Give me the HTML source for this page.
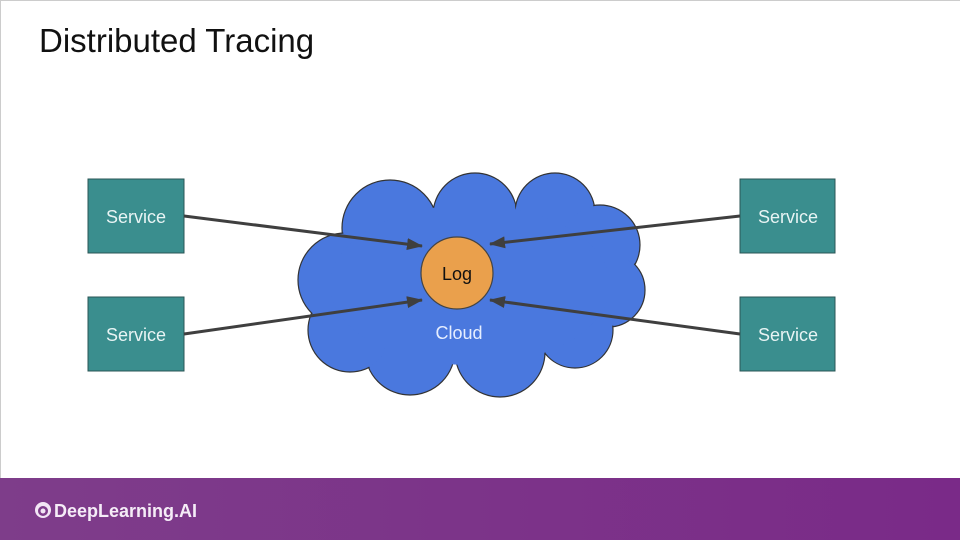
<!DOCTYPE html>
<html><head><style>
body{margin:0;width:960px;height:540px;overflow:hidden;background:#fff;font-family:"Liberation Sans",sans-serif;}
</style></head><body>
<svg width="960" height="540" viewBox="0 0 960 540" xmlns="http://www.w3.org/2000/svg" style="position:absolute;left:0;top:0">
<defs>
<linearGradient id="pg" x1="0" x2="1"><stop offset="0" stop-color="#7e3d8a"/><stop offset="1" stop-color="#7a2a88"/></linearGradient>
<marker id="ah" markerWidth="16" markerHeight="12" refX="15" refY="6" orient="auto" markerUnits="userSpaceOnUse"><path d="M0,0 L16,6 L0,12 z" fill="#3f3f3f"/></marker>
</defs>
<rect x="0" y="0" width="960" height="540" fill="#fff"/>
<line x1="0" y1="0.5" x2="960" y2="0.5" stroke="#ccc"/>
<line x1="0.5" y1="0" x2="0.5" y2="478" stroke="#ccc"/>
<text x="39" y="52" font-size="33" fill="#111" font-family="Liberation Sans, sans-serif">Distributed Tracing</text>
<!-- cloud -->
<g fill="#4a78de" stroke="#333" stroke-width="1.2">
<circle cx="390" cy="228" r="48"/><circle cx="475" cy="215" r="42"/><circle cx="555" cy="213" r="40"/><circle cx="600" cy="245" r="40"/>
<circle cx="608" cy="290" r="37"/><circle cx="575" cy="330" r="38"/><circle cx="500" cy="352" r="45"/><circle cx="410" cy="350" r="45"/>
<circle cx="350" cy="330" r="42"/><circle cx="345" cy="280" r="47"/>
</g>
<g fill="#4a78de">
<circle cx="390" cy="228" r="47"/><circle cx="475" cy="215" r="41"/><circle cx="555" cy="213" r="39"/><circle cx="600" cy="245" r="39"/>
<circle cx="608" cy="290" r="36"/><circle cx="575" cy="330" r="37"/><circle cx="500" cy="352" r="44"/><circle cx="410" cy="350" r="44"/>
<circle cx="350" cy="330" r="41"/><circle cx="345" cy="280" r="46"/>
<ellipse cx="470" cy="285" rx="140" ry="80"/>
</g>
<text x="459" y="339" font-size="18" fill="#e6eeff" text-anchor="middle">Cloud</text>
<circle cx="457" cy="273" r="36" fill="#eaa04c" stroke="#444" stroke-width="1.2"/>
<text x="457" y="280" font-size="18" fill="#111" text-anchor="middle">Log</text>
<!-- services -->
<g fill="#3a8e8e" stroke="#2a5555" stroke-width="1">
<rect x="88" y="179" width="96" height="74"/><rect x="88" y="297" width="96" height="74"/>
<rect x="740" y="179" width="95" height="74"/><rect x="740" y="297" width="95" height="74"/>
</g>
<g fill="#e8f4f4" font-size="18" text-anchor="middle">
<text x="136" y="223">Service</text><text x="136" y="341">Service</text>
<text x="788" y="223">Service</text><text x="788" y="341">Service</text>
</g>
<g stroke="#3f3f3f" stroke-width="3" marker-end="url(#ah)">
<line x1="184" y1="216" x2="422" y2="246"/>
<line x1="184" y1="334" x2="422" y2="300"/>
<line x1="740" y1="216" x2="490" y2="244"/>
<line x1="740" y1="334" x2="490" y2="300"/>
</g>
<rect x="0" y="478" width="960" height="62" fill="url(#pg)"/>
<circle cx="43" cy="510" r="8" fill="#f2e6f5"/>
<circle cx="43" cy="511" r="5" fill="#7e3d8a"/>
<circle cx="43" cy="511" r="2.5" fill="#f2e6f5"/>
<text x="54" y="517" font-size="18" fill="#f5ecf7" font-weight="bold">DeepLearning.AI</text>
</svg>
</body></html>
